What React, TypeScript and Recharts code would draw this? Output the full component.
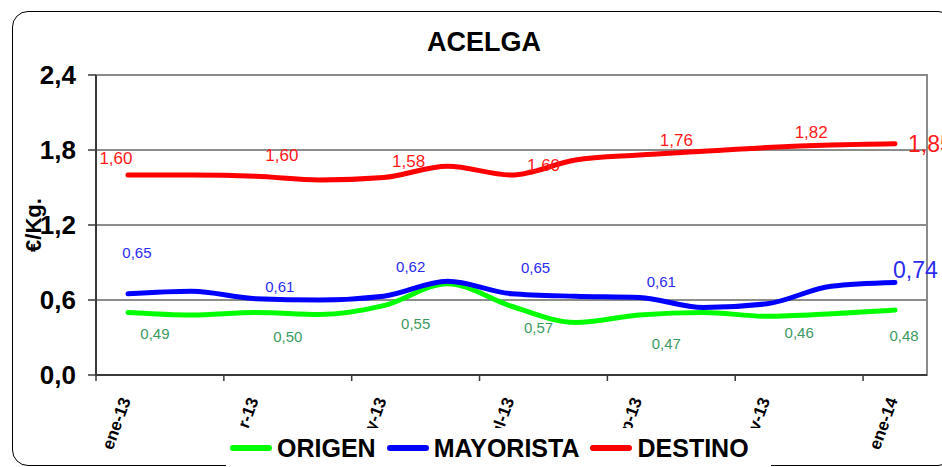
import React from 'react';
import { LineChart, Line, XAxis, YAxis, CartesianGrid, Legend, LabelList, ReferenceArea } from 'recharts';

const MONTHS = ['ene-13', 'feb-13', 'mar-13', 'abr-13', 'may-13', 'jun-13', 'jul-13', 'ago-13', 'sep-13', 'oct-13', 'nov-13', 'dic-13', 'ene-14'];
const ORIGEN = [0.5, 0.48, 0.5, 0.485, 0.555, 0.73, 0.55, 0.42, 0.48, 0.5, 0.47, 0.49, 0.52];
const MAYORISTA = [0.65, 0.67, 0.61, 0.6, 0.63, 0.75, 0.65, 0.63, 0.62, 0.54, 0.57, 0.71, 0.74];
const DESTINO = [1.6, 1.6, 1.59, 1.56, 1.58, 1.67, 1.6, 1.72, 1.76, 1.79, 1.82, 1.84, 1.85];
// printed value labels (only every other month carries one)
const ORIGEN_LABELS = [0.49, null, 0.5, null, 0.55, null, 0.57, null, 0.47, null, 0.46, null, 0.48];
const MAYORISTA_LABELS = [0.65, null, 0.61, null, 0.62, null, 0.65, null, 0.61, null, null, null, 0.74];
const DESTINO_LABELS = [1.6, null, 1.6, null, 1.58, null, 1.6, null, 1.76, null, 1.82, null, 1.85];
const Y_TICKS = [0, 0.6, 1.2, 1.8, 2.4];
const X_TICKS = [-0.5, 1.5, 3.5, 5.5, 7.5, 9.5, 11.5];

const W = 942;
const H = 467;
const MARGIN = { top: 75, right: 15, left: 20, bottom: 0 };
const Y_AXIS_W = 76;
const PLOT_W = W - MARGIN.left - MARGIN.right - Y_AXIS_W;
const CAT_W = PLOT_W / MONTHS.length;
const FONT = "'Liberation Sans', Arial, sans-serif";
const AXIS_COLOR = '#3a3a3a';

// label offsets from each point (label centre), per series
const NUDGE: Record<string, Record<number, [number, number]>> = {
  destino: { 0: [-12, -17], 2: [26, -21], 4: [25, -16], 6: [32, -10], 8: [37, -15], 10: [44, -15], 12: [13, 0] },
  mayorista: { 0: [9, -41], 2: [24, -12], 4: [27, -30], 6: [24, -26], 8: [22, -16], 12: [-2, -13] },
  origen: { 0: [27, 21], 2: [32, 24], 4: [32, 18], 6: [27, 21], 8: [27, 28], 10: [32, 16], 12: [9, 25] },
};

const SERIES = [
  { key: 'origen', name: 'ORIGEN', color: '#00ff00', label: '#3d9a62', size: 15, bigLast: false },
  { key: 'mayorista', name: 'MAYORISTA', color: '#0000ff', label: '#2b2bf0', size: 15, bigLast: true },
  { key: 'destino', name: 'DESTINO', color: '#ff0000', label: '#ff1a1a', size: 17, bigLast: true },
];

const data = MONTHS.map((mes, i) => ({
  mes,
  idx: i,
  origen: ORIGEN[i],
  mayorista: MAYORISTA[i],
  destino: DESTINO[i],
  origenLbl: ORIGEN_LABELS[i],
  mayoristaLbl: MAYORISTA_LABELS[i],
  destinoLbl: DESTINO_LABELS[i],
}));

const fmt = (v: number, d: number) => v.toFixed(d).replace('.', ',');

const MonthTick = (props: any) => {
  const { x, y, payload } = props;
  const label = MONTHS[Math.round(payload.value + 0.5)];
  const ax = x + CAT_W / 2 + 3;
  const ay = y + 17;
  return (
    <text x={ax} y={ay} textAnchor="end" transform={`rotate(-70, ${ax}, ${ay})`}
      fontFamily={FONT} fontSize={17} fontWeight="bold" fill="#000">
      {label}
    </text>
  );
};

const YLabel = (props: any) => {
  const { viewBox } = props;
  const x = viewBox.x + 13;
  const y = viewBox.y + viewBox.height / 2;
  return (
    <text x={x} y={y} transform={`rotate(-90, ${x}, ${y})`} textAnchor="middle" dominantBaseline="central"
      fontFamily={FONT} fontSize={22} fontWeight="bold" fill="#000">
      €/Kg.
    </text>
  );
};

const makeLabel = (key: string, color: string, size: number, bigLast: boolean) => (props: any) => {
  const { x, y, value, index } = props;
  if (value == null) return null;
  const big = bigLast && index === MONTHS.length - 1;
  const [dx, dy] = NUDGE[key][index] || [20, -20];
  return (
    <text x={x + dx} y={y + dy} textAnchor={big ? 'start' : 'middle'} dominantBaseline="central"
      fontFamily={FONT} fontSize={big ? 23 : size} fill={color}>
      {fmt(value, 2)}
    </text>
  );
};

const renderLegend = () => (
  <div style={{ display: 'flex', alignItems: 'center', height: 40, paddingLeft: 4, fontFamily: FONT }}>
    {SERIES.map((s) => (
      <div key={s.key} style={{ display: 'flex', alignItems: 'center', marginRight: 11 }}>
        <span style={{ display: 'inline-block', width: 42, height: 6, borderRadius: 3, background: s.color, marginRight: 5 }} />
        <span style={{ fontSize: 25, fontWeight: 'bold', color: '#000' }}>{s.name}</span>
      </div>
    ))}
  </div>
);

export default function App() {
  return (
    <div style={{ position: 'absolute', left: 0, top: 0, width: W, height: H, overflow: 'hidden', background: '#fff' }}>
      <div style={{ position: 'absolute', left: 12, top: 11, width: 940, height: 453, border: '1.5px solid #000', borderRadius: 16 }} />
      <div style={{ position: 'absolute', left: 384, top: 29, width: 200, textAlign: 'center', fontFamily: FONT, fontWeight: 'bold', fontSize: 27, lineHeight: '27px' }}>
        ACELGA
      </div>
      <div style={{ position: 'absolute', left: 0, top: 0 }}>
        <LineChart width={W} height={H} data={data} margin={MARGIN}>
          <CartesianGrid vertical={false} stroke="#1a1a1a" />
          <ReferenceArea x1={-0.5} x2={12.5} y1={0} y2={2.4} fill="none" stroke="#8a8a8a" strokeWidth={2} />
          <XAxis dataKey="idx" type="number" domain={[-0.5, 12.5]} ticks={X_TICKS} interval={0}
            height={92} tickSize={6} tickMargin={2} tick={<MonthTick />}
            axisLine={{ stroke: AXIS_COLOR, strokeWidth: 2 }} tickLine={{ stroke: AXIS_COLOR, strokeWidth: 1.5 }} />
          <YAxis type="number" domain={[0, 2.4]} ticks={Y_TICKS} width={Y_AXIS_W} tickSize={8} tickMargin={12}
            tickFormatter={(v: number) => fmt(v, 1)}
            tick={{ fontFamily: FONT, fontSize: 26, fontWeight: 'bold', fill: '#000' }}
            axisLine={{ stroke: AXIS_COLOR, strokeWidth: 2 }} tickLine={{ stroke: AXIS_COLOR, strokeWidth: 1.5 }}
            label={<YLabel />} />
          <Legend layout="horizontal" align="center" verticalAlign="middle"
            wrapperStyle={{ top: 428, left: 226, width: 545, height: 40, background: '#fff' }}
            content={renderLegend} />
          {SERIES.map((s) => (
            <Line key={s.key} type="monotone" dataKey={s.key} name={s.name} stroke={s.color} strokeWidth={5}
              strokeLinecap="round" dot={false} activeDot={false} isAnimationActive={false}>
              <LabelList dataKey={`${s.key}Lbl`} content={makeLabel(s.key, s.label, s.size, s.bigLast)} />
            </Line>
          ))}
        </LineChart>
      </div>
    </div>
  );
}
